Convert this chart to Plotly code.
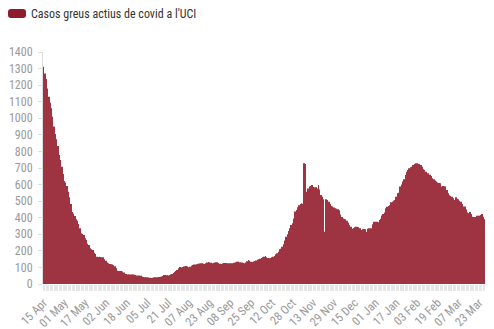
import plotly.graph_objects as go
import pandas as pd

# Dates (categories): daily, with a few days missing in the source series
missing_days = ["2020-06-28", "2020-08-02", "2020-09-20", "2020-10-04", "2020-12-25", "2021-01-24"]
dates = [d for d in pd.date_range("2020-04-15", "2021-03-27")
         if d.strftime("%Y-%m-%d") not in missing_days]

# Severe active covid cases in ICU
values = [
    1311, 1271, 1237, 1180, 1130, 1094, 1060, 1010, 950, 905,
    873, 833, 779, 748, 708, 664, 622, 612, 592, 557,
    523, 483, 434, 426, 410, 390, 382, 362, 336, 306,
    302, 296, 276, 266, 243, 235, 215, 209, 205, 189,
    181, 165, 163, 165, 163, 161, 161, 149, 141, 129,
    125, 121, 119, 117, 113, 107, 95, 80, 78, 78,
    78, 76, 70, 60, 60, 58, 58, 58, 58, 58,
    56, 54, 52, 52, 51, 50, 44, 42, 40, 40,
    40, 39, 38, 36, 38, 39, 40, 40, 41, 42,
    44, 46, 48, 54, 54, 53, 52, 55, 58, 60,
    66, 72, 78, 84, 95, 103, 99, 103, 105, 107,
    109, 105, 101, 104, 110, 115, 117, 118, 119, 121,
    123, 125, 125, 122, 121, 125, 130, 133, 131, 128,
    125, 127, 130, 131, 131, 126, 122, 121, 124, 127,
    127, 126, 125, 125, 125, 125, 125, 128, 132, 135,
    134, 132, 131, 129, 127, 125, 130, 138, 145, 140,
    134, 133, 136, 139, 142, 146, 149, 153, 157, 161,
    165, 169, 162, 157, 155, 157, 161, 165, 169, 180,
    185, 195, 209, 213, 225, 240, 262, 285, 300, 320,
    336, 356, 366, 396, 437, 447, 463, 475, 483, 487,
    485, 728, 724, 557, 577, 588, 592, 598, 586, 584,
    584, 577, 598, 571, 537, 527, 511, 316, 511, 507,
    497, 483, 471, 467, 462, 457, 454, 451, 445, 420,
    405, 396, 392, 390, 382, 370, 356, 346, 334, 338,
    342, 346, 345, 342, 336, 326, 330, 332, 330, 316,
    334, 336, 336, 336, 360, 376, 376, 376, 372, 386,
    394, 414, 422, 431, 457, 466, 471, 475, 493, 497,
    502, 507, 527, 547, 551, 588, 600, 618, 632, 658,
    678, 688, 698, 704, 708, 718, 724, 728, 728, 724,
    724, 718, 708, 692, 688, 678, 668, 668, 660, 652,
    638, 632, 625, 618, 612, 610, 608, 588, 592, 590,
    588, 567, 547, 535, 531, 527, 517, 507, 523, 515,
    511, 503, 497, 483, 467, 467, 450, 431, 427, 435,
    423, 406, 405, 404, 412, 412, 412, 416, 423, 406,
    390,
]

tick_labels = ["15 Apr", "01 May", "17 May", "02 Jun", "18 Jun", "05 Jul", "21 Jul",
               "07 Aug", "23 Aug", "08 Sep", "25 Sep", "12 Oct", "28 Oct", "13 Nov",
               "29 Nov", "15 Dec", "01 Jan", "17 Jan", "03 Feb", "19 Feb", "07 Mar",
               "23 Mar"]

series_name = "Casos greus actius de covid a l'UCI"
legend_color = "#8c1c2c"
bar_color = "#9e3341"

n = min(len(dates), len(values))
xs = list(range(n))
labels_by_day = [d.strftime("%d %b") for d in dates[:n]]
ticktext = [lab if lab in tick_labels else "" for lab in labels_by_day]

FONT = "Liberation Sans Narrow, Roboto Condensed, Roboto, sans-serif"

fig = go.Figure()
fig.add_trace(go.Bar(
    x=xs, y=values[:n], name=series_name,
    marker=dict(color=bar_color, line=dict(width=0)),
    showlegend=False,
    hovertext=[d.strftime("%d %b %Y") for d in dates[:n]],
))

fig.update_layout(
    width=494, height=329,
    margin=dict(l=43, r=9, t=52, b=45),
    paper_bgcolor="white", plot_bgcolor="white",
    bargap=0.6,
    font=dict(family=FONT, size=12, color="#999999"),
    xaxis=dict(
        range=[-0.5, n - 0.5],
        tickmode="array", tickvals=xs, ticktext=ticktext,
        tickangle=-45, automargin=False,
        ticks="outside", ticklen=6, tickwidth=1, tickcolor="#e6e6e6",
        showgrid=False, zeroline=False, showline=False,
        tickfont=dict(family=FONT, size=12, color="#999999"),
    ),
    yaxis=dict(
        range=[0, 1400], dtick=100, tick0=0, automargin=False,
        ticks="outside", ticklen=4, tickcolor="#dddddd",
        showline=True, linecolor="#dddddd", linewidth=1,
        showgrid=False, zeroline=False,
        tickfont=dict(family=FONT, size=12, color="#999999"),
        ticklabelstandoff=3,
    ),
)

# Legend drawn manually: rounded pill swatch + label
fig.add_shape(
    type="path", xref="paper", yref="paper",
    xsizemode="pixel", ysizemode="pixel", xanchor=0, yanchor=1,
    path="M -32,43 L -20,43 Q -17,43 -17,40 L -17,37 Q -17,34 -20,34 "
         "L -32,34 Q -35,34 -35,37 L -35,40 Q -35,43 -32,43 Z",
    fillcolor=legend_color, line=dict(width=0),
)
fig.add_annotation(
    text=series_name, xref="paper", yref="paper",
    x=-14 / 442, y=(232 + 38) / 232, xanchor="left", yanchor="middle",
    showarrow=False, font=dict(family=FONT, size=12, color="#333333"),
)

fig.write_html("out.html")
